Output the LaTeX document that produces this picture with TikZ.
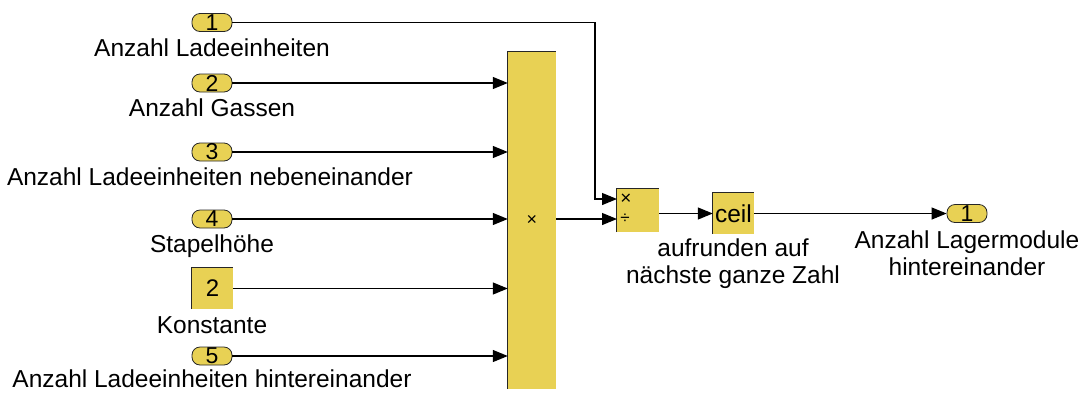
\documentclass[tikz,border=0pt]{standalone}
\usepackage{fontspec}
\setmainfont{Liberation Sans}
\usetikzlibrary{arrows.meta,calc}
\definecolor{simyellow}{RGB}{232,209,84}
\begin{document}
\begin{tikzpicture}[x=1pt,y=-1pt,
  port/.style={rounded corners=8pt, fill=simyellow, draw=black!85, line width=0.8pt,
    minimum width=40pt, minimum height=18pt, inner sep=0pt, font=\fontsize{23}{23}\selectfont},
  blk/.style={fill=simyellow, inner sep=0pt},
  lbl/.style={inner sep=0pt, anchor=base, font=\fontsize{24.5}{27}\selectfont, align=center},
  arr/.style={draw=black, line width=1.2pt, -{Triangle[length=15pt,width=12pt]}},
  edge/.style={draw=black!85, line width=1.2pt}
]
\useasboundingbox (0,0) rectangle (1080,392);
% inports
\node[port] (in1) at (212,22.5) {1};
\node[port] (in2) at (212,83) {2};
\node[port] (in3) at (212,152) {3};
\node[port] (in4) at (212,219) {4};
\node[port] (in5) at (212,356) {5};
\node[blk, minimum width=41pt, minimum height=41pt, font=\fontsize{24}{24}\selectfont] (const) at (212.5,288.5) {2};
\draw[edge] (const.south west) -- (const.north west) -- (const.north east);
% labels
\node[lbl] (l1) at (212,56) {Anzahl Ladeeinheiten};
\node[lbl] (l2) at (212,116) {Anzahl Gassen};
\node[lbl] (l3) at (210,185) {Anzahl Ladeeinheiten nebeneinander};
\node[lbl] (l4) at (212,252) {Stapelhöhe};
\node[lbl] (lc) at (212,333) {Konstante};
\node[lbl] (l5) at (212,387.5) {Anzahl Ladeeinheiten hintereinander};
% product
\node[blk, minimum width=48pt, minimum height=337pt, font=\fontsize{18}{18}\selectfont] (prod) at (532,220.5) {×};
\draw[edge] (prod.south west) -- (prod.north west) -- (prod.north east);
% divide
\node[blk, minimum width=42pt, minimum height=43pt] (div) at (638,210.5) {};
\draw[edge] (div.south west) -- (div.north west) -- (div.north east);
\node[inner sep=0pt, font=\fontsize{19}{19}\selectfont] (dmul) at (626,199) {×};
\node[inner sep=0pt, font=\fontsize{17}{17}\selectfont] (ddiv) at (625,219) {÷};
\coordinate (d1) at (617,199);
\coordinate (d2) at (617,219);
\coordinate (bend) at (595,22.5);
% ceil
\node[blk, minimum width=41pt, minimum height=41pt, font=\fontsize{24.5}{24.5}\selectfont] (ceil) at (733.5,213.5) {ceil};
\draw[edge] (ceil.south west) -- (ceil.north west) -- (ceil.north east);
\node[lbl] (lceil) at (733,283) {aufrunden auf\\nächste ganze Zahl};
% outport
\node[port] (out) at (967,213.5) {1};
\node[lbl] (lout) at (967,275) {Anzahl Lagermodule\\hintereinander};
% connectors
\draw[arr] (in2.east) -- (in2.east -| prod.west);
\draw[arr] (in3.east) -- (in3.east -| prod.west);
\draw[arr] (in4.east) -- (in4.east -| prod.west);
\draw[arr] (const.east) -- (const.east -| prod.west);
\draw[arr] (in5.east) -- (in5.east -| prod.west);
\draw[arr] (in1.east) -- (bend) |- (d1);
\draw[arr] (prod.east |- d2) -- (d2);
\draw[arr] (div.east |- ceil.west) -- (ceil.west);
\draw[arr] (ceil.east) -- (out.west);
\end{tikzpicture}
\end{document}
